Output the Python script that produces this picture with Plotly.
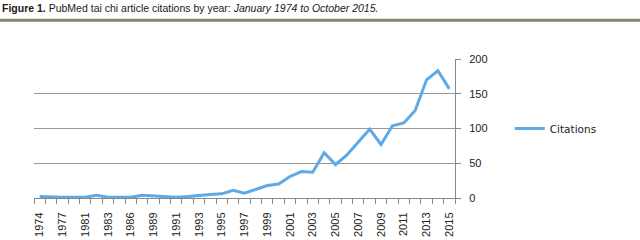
import plotly.graph_objects as go

years = ["1974", "1975", "1977", "1979", "1981", "1982", "1983", "1984", "1986", "1987",
         "1989", "1990", "1991", "1992", "1993", "1994", "1995", "1996", "1997", "1998",
         "1999", "2000", "2001", "2002", "2003", "2004", "2005", "2006", "2007", "2008",
         "2009", "2010", "2011", "2012", "2013", "2014", "2015"]
citations = [2, 1, 1, 1, 1, 4, 1, 1, 1, 4,
             3, 1, 1, 2, 4, 5, 6, 11, 7, 12,
             18, 20, 31, 38, 37, 65, 48, 62, 81, 99,
             77, 104, 108, 126, 170, 183, 157]
y_ticks = [0, 50, 100, 150, 200]

idx = list(range(len(years)))
label_idx = idx[::2]
label_txt = [years[i] for i in label_idx]

fig = go.Figure()
fig.add_trace(go.Scatter(x=idx, y=citations, mode="lines", name="Citations",
                         line=dict(color="#5fa9e6", width=3)))

fig.update_layout(
    width=640, height=240,
    margin=dict(l=34, r=185, t=59, b=42),
    paper_bgcolor="white", plot_bgcolor="white",
    font=dict(family="Liberation Sans, Arial, sans-serif", size=11, color="#222"),
    showlegend=True,
    legend=dict(x=1.13, y=0.5, xanchor="left", yanchor="middle",
                font=dict(family="DejaVu Sans, sans-serif", size=10.5, color="#222"),
                itemwidth=30, tracegroupgap=0),
    xaxis=dict(range=[-0.5, len(years) - 0.5], tickmode="array",
               tickvals=label_idx, ticktext=label_txt, tickangle=-90,
               ticks="", showgrid=False, zeroline=False, automargin=False,
               showline=True, linecolor="#888", linewidth=1,
               tickfont=dict(size=11, family="Liberation Sans, Arial, sans-serif"),
               ticklabelstandoff=9,
               minor=dict(tick0=-0.5, dtick=1, ticks="outside", ticklen=5,
                          tickcolor="#888", showgrid=False)),
    yaxis=dict(range=[0, 200], tickvals=y_ticks, side="right",
               showgrid=True, gridcolor="#999", gridwidth=1, automargin=False,
               zeroline=False, showline=True, linecolor="#888", linewidth=1,
               ticks="outside", ticklen=5, tickcolor="#888",
               tickfont=dict(size=11, family="Liberation Sans, Arial, sans-serif"),
               ticklabelstandoff=6),
)

fig.add_annotation(xref="paper", yref="paper", x=-34 / 421, y=(198.5 - 8) / 139.5,
                   xanchor="left", yanchor="middle", showarrow=False,
                   text="<b>Figure 1.</b> PubMed tai chi article citations by year: <i>January 1974 to October 2015.</i>",
                   font=dict(family="Liberation Sans, sans-serif", size=10.5, color="#1a1a1a"))
fig.add_shape(type="line", xref="paper", yref="paper",
              x0=-34 / 421, x1=(640 - 34) / 421, y0=(198.5 - 20) / 139.5, y1=(198.5 - 20) / 139.5,
              line=dict(color="#7f8672", width=3))

fig.write_html("out.html", config={"displayModeBar": False},
               post_script="document.body.style.margin='0';")
